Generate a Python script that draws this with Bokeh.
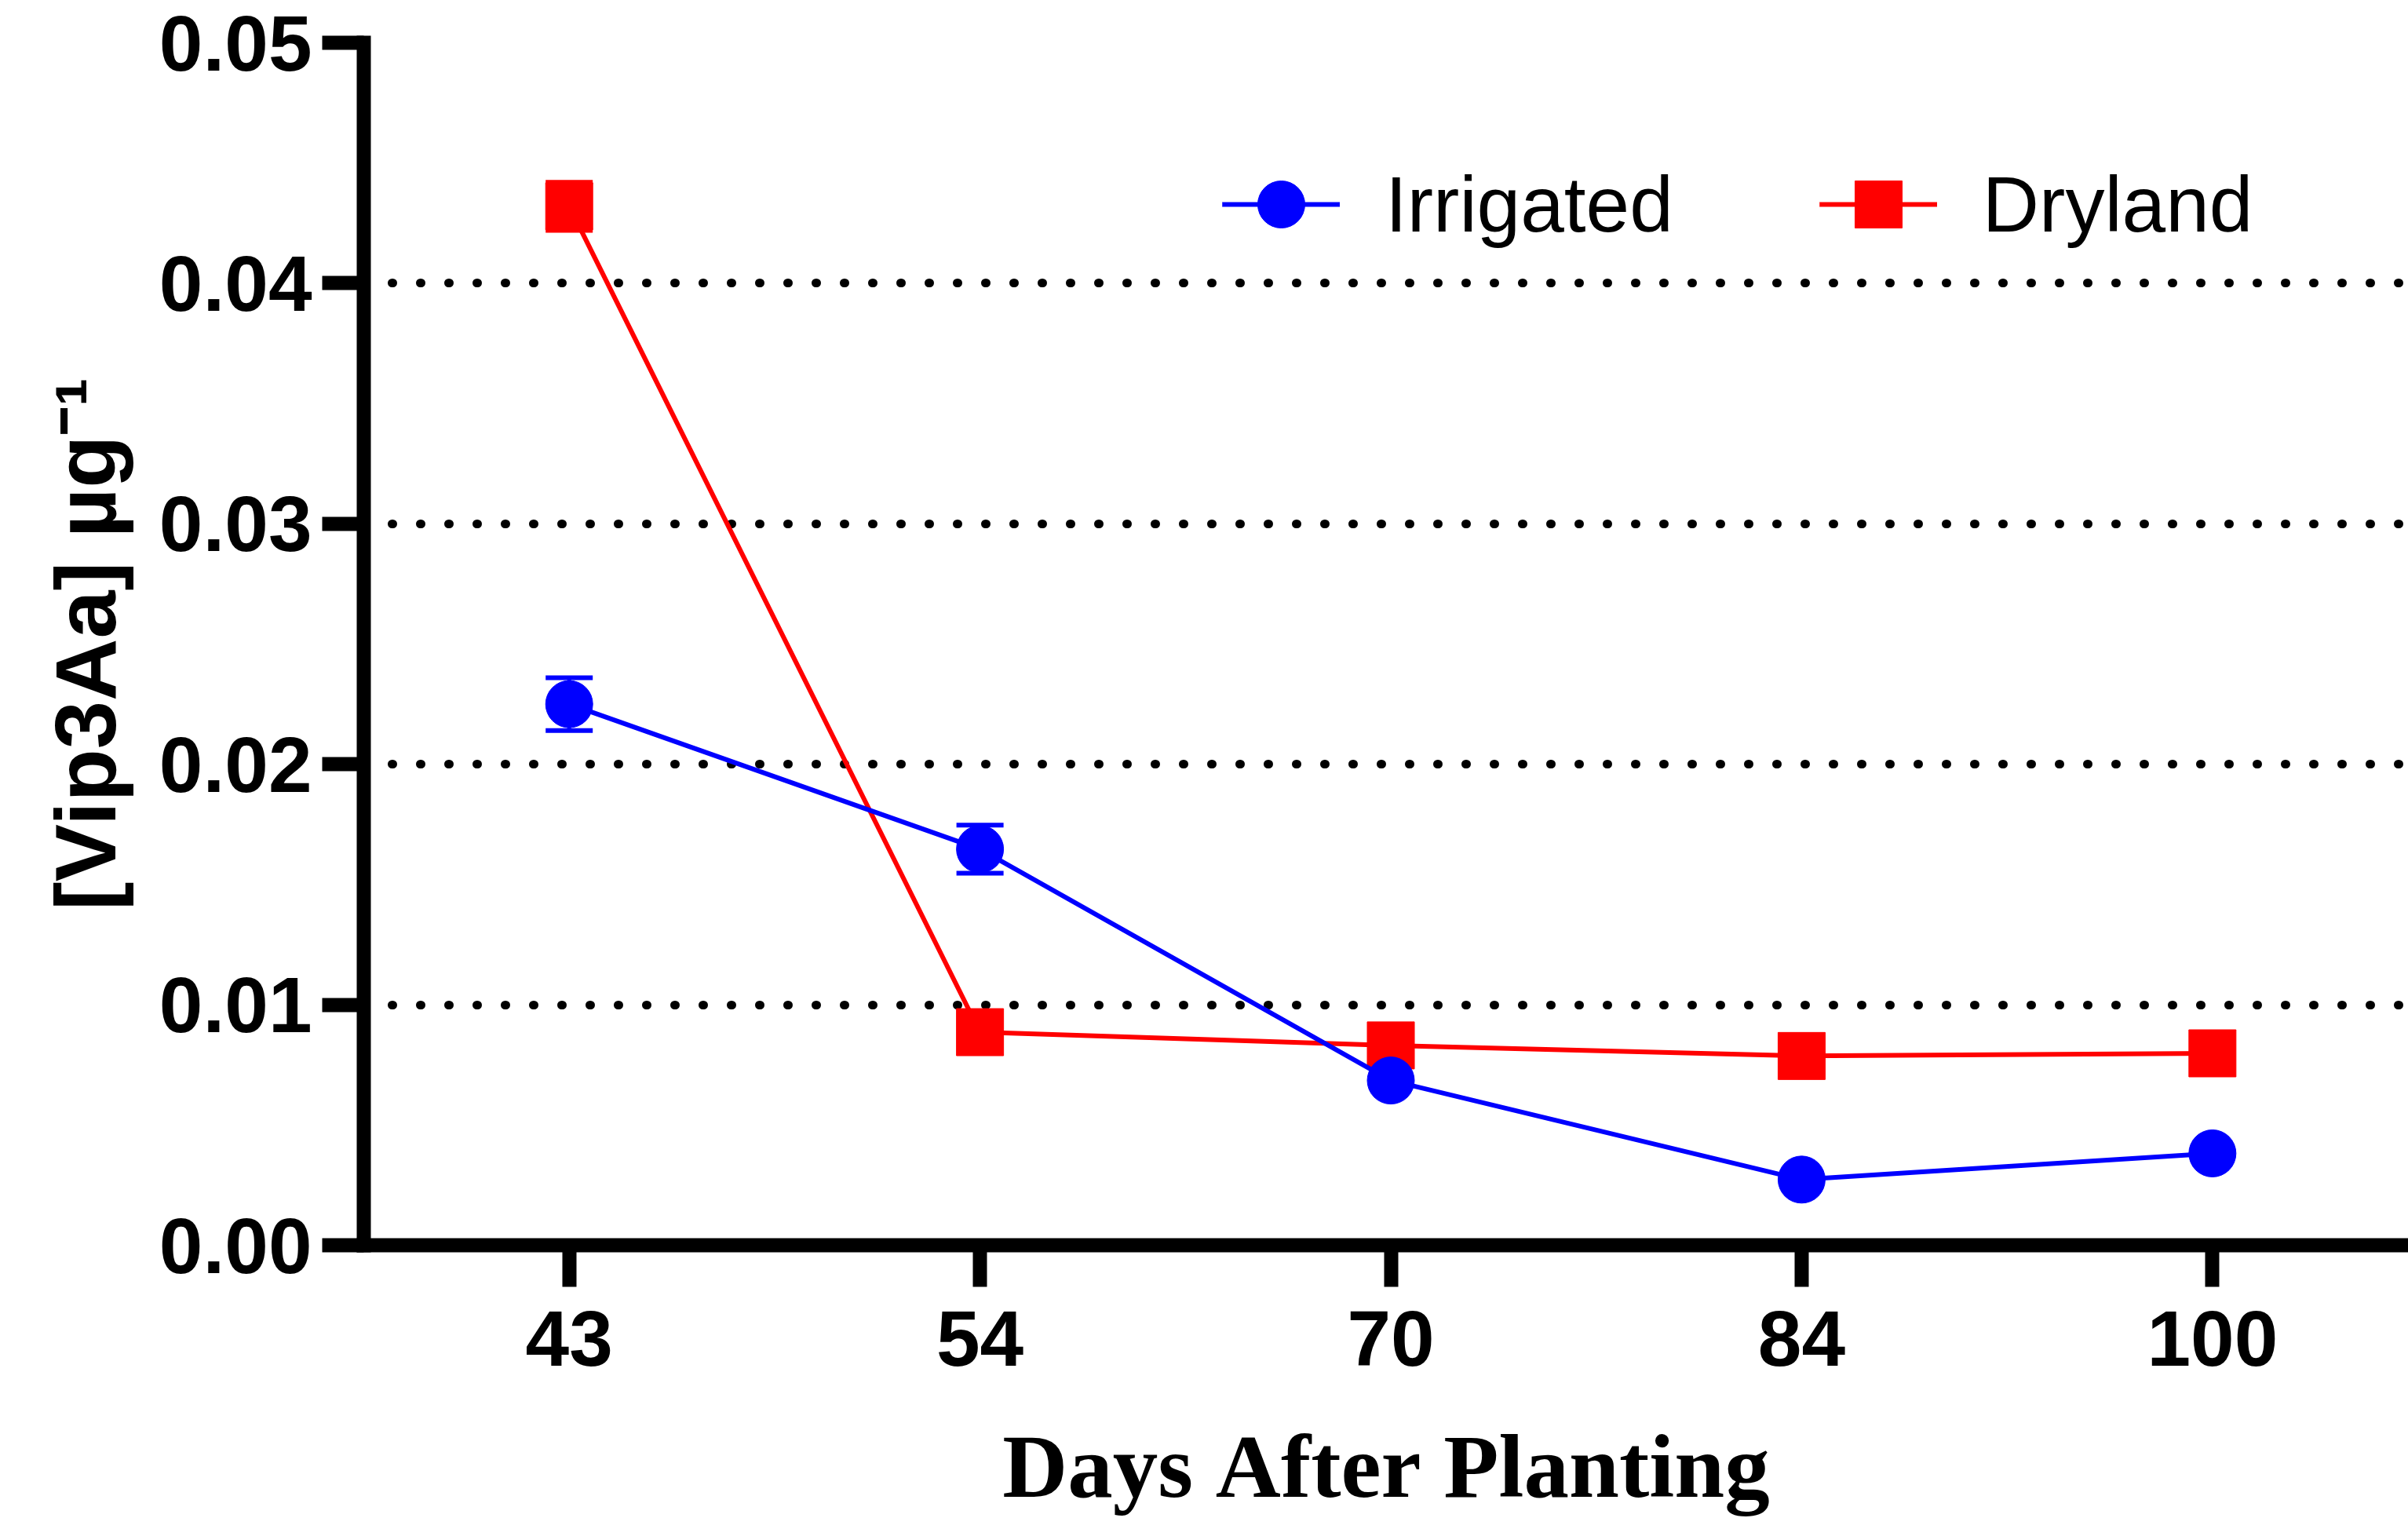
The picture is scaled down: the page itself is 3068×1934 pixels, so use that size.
from bokeh.plotting import figure
from bokeh.models import (Range1d, FixedTicker, Legend, LegendItem,
                          CustomJSTickFormatter, PrintfTickFormatter)
from bokeh.embed import file_html
from bokeh.resources import INLINE

# ---- data ----
days = ["43", "54", "70", "84", "100"]
irrigated = [0.0225, 0.01647, 0.00685, 0.00273, 0.00382]
irrigated_err = [0.0011, 0.0010, 0.0, 0.0, 0.0]
dryland = [0.0432, 0.00886, 0.00831, 0.00787, 0.00798]
dryland_err = [0.0010, 0.0, 0.0, 0.0, 0.0]
y_ticks = [0.00, 0.01, 0.02, 0.03, 0.04, 0.05]
series_names = ["Irrigated", "Dryland"]
x_label = "Days After Planting"
y_label = "[Vip3Aa] µg\u207b\u00b9"

BLUE = "#0000FF"
RED = "#FF0000"
SANS = "Liberation Sans"
SERIF = "Liberation Serif"

xpos = list(range(len(days)))

# The SVG backend failed to paint any text in this environment, so the canvas backend is used.
p = figure(width=3068, height=1934, output_backend="canvas", toolbar_location=None,
           x_range=Range1d(-0.5, 4.477), y_range=Range1d(0, 0.05),
           min_border_left=463, min_border_right=0, min_border_top=54,
           min_border_bottom=348)
p.outline_line_color = None

# ---- axes ----
yticker = FixedTicker(ticks=y_ticks)
p.yaxis.ticker = yticker
p.yaxis.formatter = PrintfTickFormatter(format="%.2f")
p.xaxis.ticker = FixedTicker(ticks=xpos)
p.xaxis.formatter = CustomJSTickFormatter(
    args=dict(labels=days),
    code="const i = Math.round(tick); return (i >= 0 && i < labels.length) ? labels[i] : '';")

for ax in (p.xaxis[0], p.yaxis[0]):
    ax.axis_line_width = 18
    ax.axis_line_color = "black"
    ax.axis_line_cap = "square"
    ax.major_tick_line_width = 18
    ax.major_tick_line_color = "black"
    ax.major_tick_out = 53
    ax.major_tick_in = 0
    ax.minor_tick_line_color = None
    ax.major_label_text_font = SANS
    ax.major_label_text_font_style = "bold"
    ax.major_label_text_font_size = "100px"
    ax.major_label_text_color = "black"

p.yaxis.major_label_standoff = 13
p.xaxis.major_label_standoff = 30

p.yaxis.axis_label = y_label
p.yaxis.axis_label_text_font = SANS
p.yaxis.axis_label_text_font_style = "bold"
p.yaxis.axis_label_text_font_size = "110px"
p.yaxis.axis_label_text_color = "black"
p.yaxis.axis_label_standoff = 30

p.xaxis.axis_label = x_label
p.xaxis.axis_label_text_font = SERIF
p.xaxis.axis_label_text_font_style = "bold"
p.xaxis.axis_label_text_font_size = "115px"
p.xaxis.axis_label_text_color = "black"
p.xaxis.axis_label_standoff = 62

# ---- grid ----
p.xgrid.visible = False
p.ygrid.ticker = yticker
p.ygrid.grid_line_color = "black"
p.ygrid.grid_line_width = 11
p.ygrid.grid_line_dash = "1 35"
p.ygrid.grid_line_cap = "round"

# ---- error bars (stems + caps, drawn beneath the markers) ----
def add_err(vals, errs, color):
    xs = [x for x, e in zip(xpos, errs) if e > 0]
    up = [v + e for v, e in zip(vals, errs) if e > 0]
    lo = [v - e for v, e in zip(vals, errs) if e > 0]
    p.segment(x0=xs, y0=lo, x1=xs, y1=up, line_color=color, line_width=5)
    p.scatter(xs, up, marker="dash", size=60, line_color=color, line_width=6)
    p.scatter(xs, lo, marker="dash", size=60, line_color=color, line_width=6)

add_err(dryland, dryland_err, RED)
add_err(irrigated, irrigated_err, BLUE)

# ---- series ----
line_r = p.line(xpos, dryland, line_color=RED, line_width=6)
scat_r = p.scatter(xpos, dryland, marker="square", size=60, fill_color=RED, line_color=RED, line_width=1)
line_b = p.line(xpos, irrigated, line_color=BLUE, line_width=6)
scat_b = p.scatter(xpos, irrigated, marker="circle", size=60, fill_color=BLUE, line_color=BLUE, line_width=1)

legend = Legend(items=[LegendItem(label=series_names[0], renderers=[line_b, scat_b]),
                       LegendItem(label=series_names[1], renderers=[line_r, scat_r])],
                orientation="horizontal", location=(1094, 1251),
                glyph_width=150, glyph_height=150, label_standoff=58, spacing=186,
                padding=0, margin=0, border_line_color=None, background_fill_alpha=0,
                label_text_font=SANS, label_text_font_size="100px",
                label_text_color="black")
p.add_layout(legend)

open("out.html", "w").write(file_html(p, INLINE))
